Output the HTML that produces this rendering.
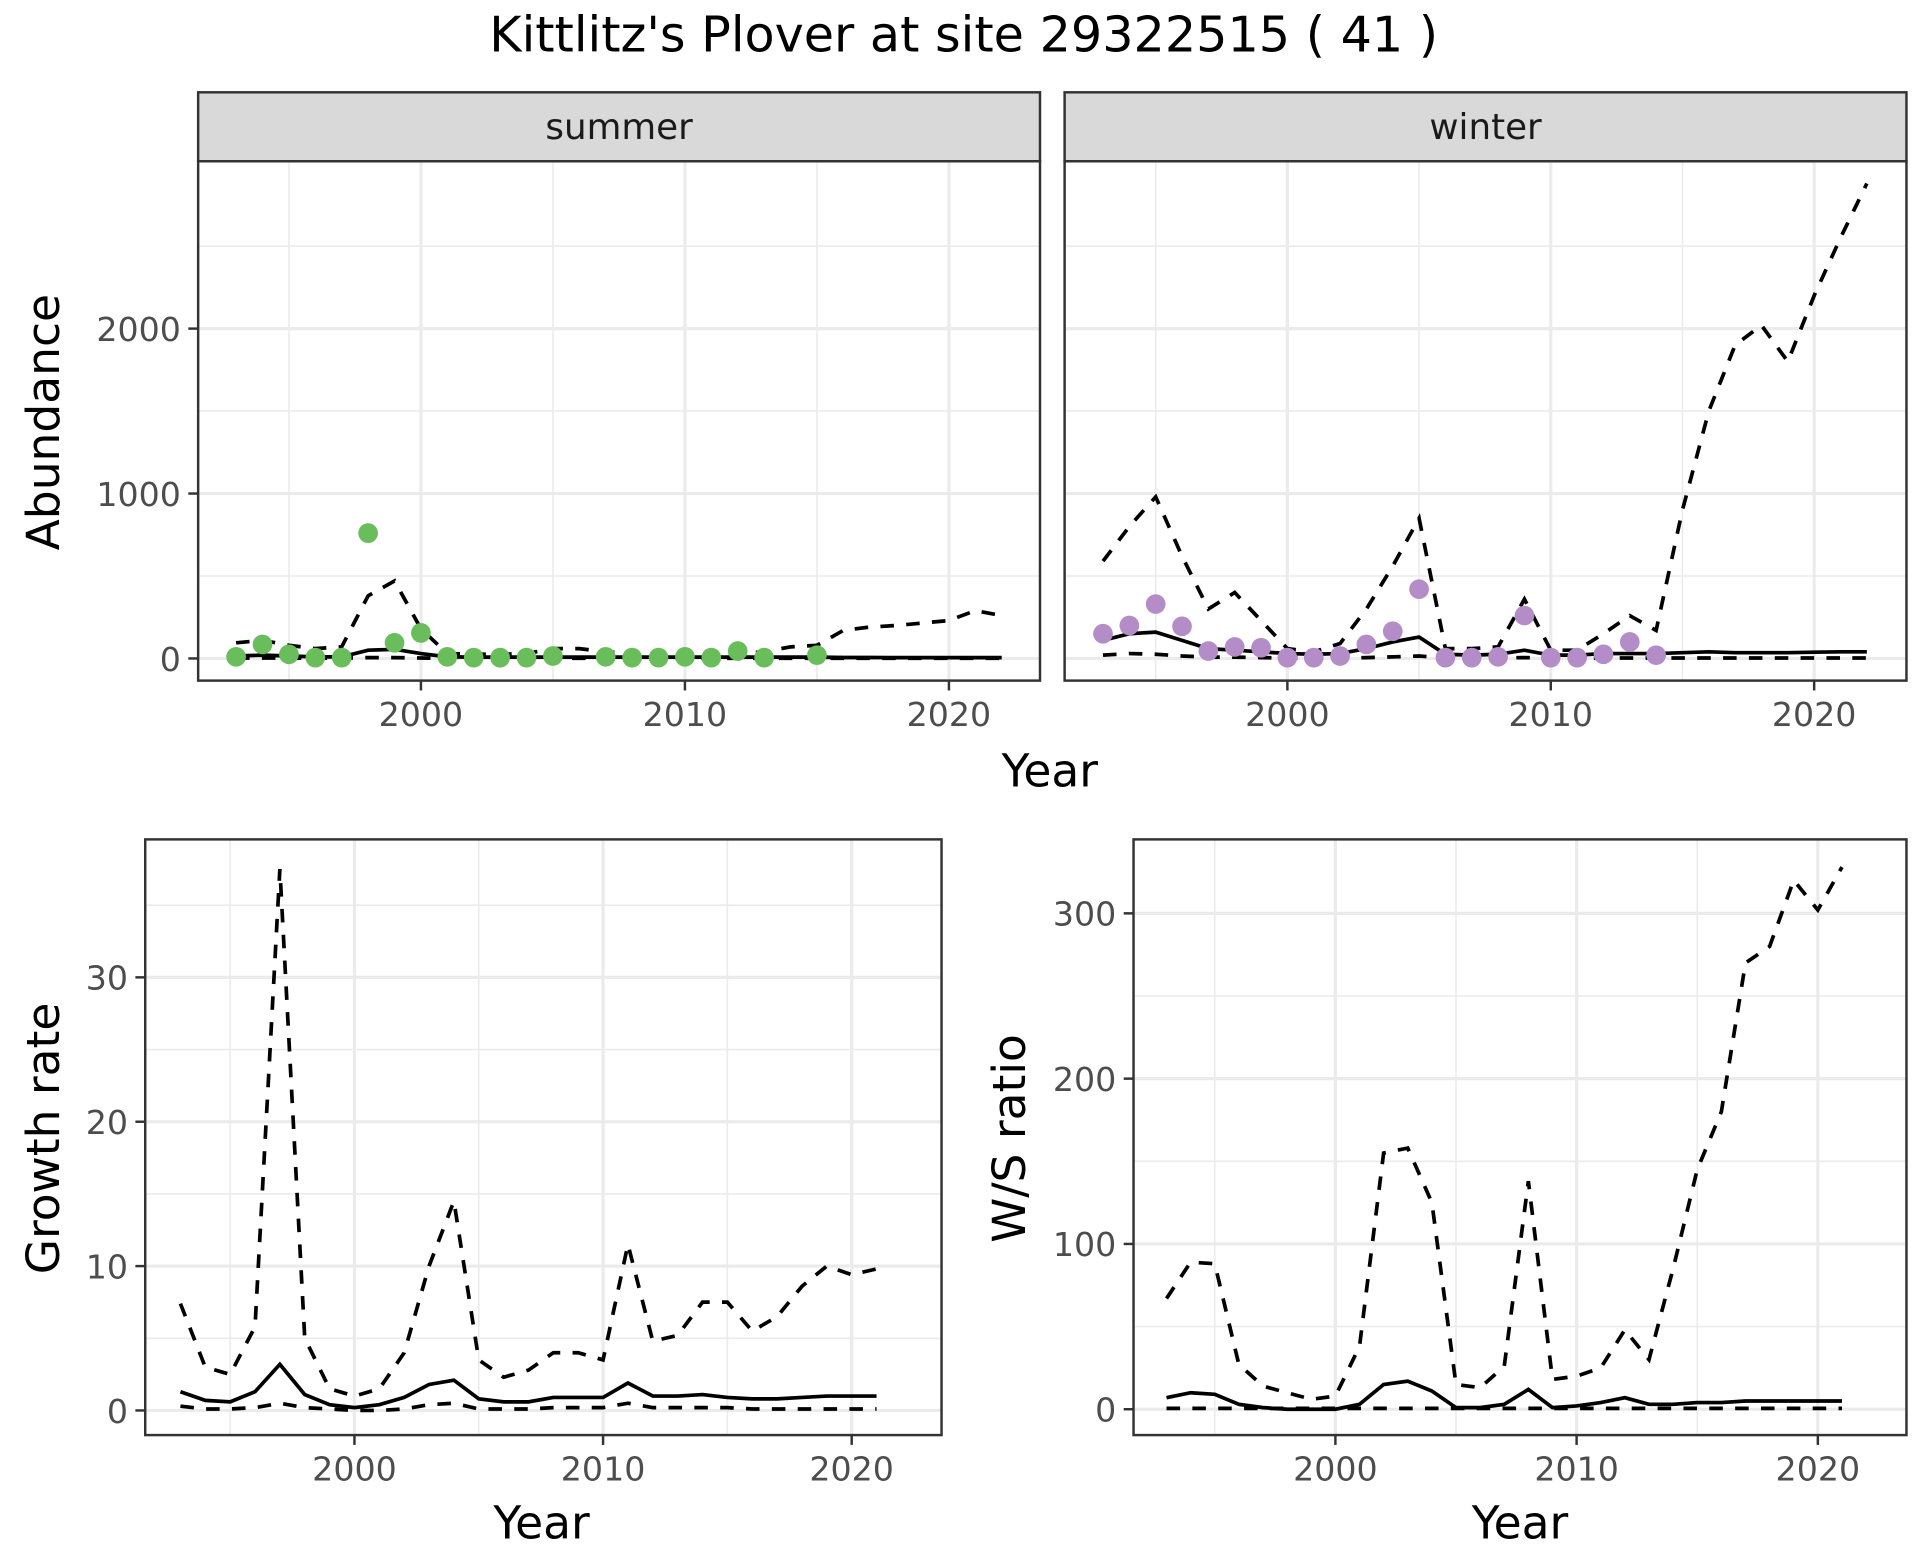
<!DOCTYPE html>
<html><head><meta charset="utf-8"><style>
body{margin:0;background:#fff}
svg{display:block;font-family:"DejaVu Sans","Liberation Sans",sans-serif}
</style></head><body>
<svg id="chart" width="1920" height="1560" viewBox="0 0 1560 1267.5" xmlns="http://www.w3.org/2000/svg">
<rect width="1560" height="1267.5" fill="#fff"/>
<text x="783" y="42" font-size="40" text-anchor="middle" fill="#000">Kittlitz's Plover at site 29322515 ( 41 )</text>
</svg>
<script>
const summerYears=[1993,1994,1995,1996,1997,1998,1999,2000,2001,2002,2003,2004,2005,2007,2008,2009,2010,2011,2012,2013,2015];
const summerCounts=[10,85,25,5,5,760,95,155,10,5,5,5,15,10,5,5,10,5,45,5,20];
const winterYears=[1993,1994,1995,1996,1997,1998,1999,2000,2001,2002,2003,2004,2005,2006,2007,2008,2009,2010,2011,2012,2013,2014];
const winterCounts=[150,200,330,195,45,70,65,5,5,15,85,165,420,5,5,10,260,5,5,25,100,20];
const modelYears=[1993,1994,1995,1996,1997,1998,1999,2000,2001,2002,2003,2004,2005,2006,2007,2008,2009,2010,2011,2012,2013,2014,2015,2016,2017,2018,2019,2020,2021,2022];
const summerMid=[15,20,15,10,10,50,55,30,10,8,8,8,8,8,8,8,8,8,8,8,8,8,8,6,6,5,5,5,5,5];
const summerHigh=[95,110,80,60,70,380,470,180,30,25,25,30,60,60,40,30,30,30,30,30,40,70,80,170,190,200,215,230,290,260];
const summerLow=[2,3,2,2,2,5,5,3,1,1,1,1,1,1,1,1,1,1,1,1,1,1,1,1,1,1,1,1,1,1];
const winterMid=[110,150,160,110,60,50,40,30,25,30,60,100,130,25,20,25,50,20,20,30,30,30,35,40,35,35,35,38,40,40];
const winterHigh=[590,800,980,620,300,400,230,60,40,90,300,560,850,60,60,70,360,50,50,150,260,170,900,1500,1900,2020,1800,2200,2550,2880];
const winterLow=[20,30,25,15,8,8,5,3,3,3,5,10,15,3,3,3,5,3,3,3,3,3,3,3,3,3,3,3,3,3];
const rateYears=[1993,1994,1995,1996,1997,1998,1999,2000,2001,2002,2003,2004,2005,2006,2007,2008,2009,2010,2011,2012,2013,2014,2015,2016,2017,2018,2019,2020,2021];
const growthMid=[1.3,0.7,0.6,1.3,3.2,1.1,0.4,0.2,0.4,0.9,1.8,2.1,0.8,0.6,0.6,0.9,0.9,0.9,1.9,1.0,1.0,1.1,0.9,0.8,0.8,0.9,1.0,1.0,1.0];
const growthHigh=[7.4,3.0,2.5,5.8,37.5,5.0,1.5,1.0,1.5,4.0,10.0,14.5,3.5,2.3,2.8,4.0,4.0,3.5,11.5,4.8,5.2,7.5,7.5,5.5,6.5,8.6,10.0,9.4,9.8];
const growthLow=[0.3,0.1,0.1,0.2,0.5,0.2,0.1,0.0,0.0,0.1,0.4,0.5,0.1,0.1,0.1,0.2,0.2,0.2,0.5,0.2,0.2,0.2,0.2,0.1,0.1,0.1,0.1,0.1,0.1];
const ratioMid=[7,10,9,3,1,0,0,0,3,15,17,11,1,1,3,12,1,2,4,7,3,3,4,4,5,5,5,5,5];
const ratioHigh=[67,89,88,27,14,10,6,8,38,155,158,125,15,13,26,138,18,20,25,48,30,85,145,180,270,280,320,302,328];
const ratioLow=[0.5,0.5,0.5,0.5,0.5,0.5,0.5,0.5,0.5,0.5,0.5,0.5,0.5,0.5,0.5,0.5,0.5,0.5,0.5,0.5,0.5,0.5,0.5,0.5,0.5,0.5,0.5,0.5,0.5];
const xTicks=[2000,2010,2020];
const abundanceTicks=[0,1000,2000];
const growthTicks=[0,10,20,30];
const ratioTicks=[0,100,200,300];

const svg=document.getElementById('chart');
const NS='http://www.w3.org/2000/svg';
function mk(tag,attrs,parent){const e=document.createElementNS(NS,tag);for(const k in attrs)e.setAttribute(k,attrs[k]);(parent||svg).appendChild(e);return e;}

function panel(p){
  const g=mk('g',{});
  
  
  const sx=v=>p.x0+(v-2000)*p.kx, sy=v=>p.y0-v*p.ky;
  mk('rect',{x:p.L,y:p.T,width:p.R-p.L,height:p.B-p.T,fill:'#fff'},g);
  for(let yr=1995;yr<=2025;yr+=10){const x=sx(yr);if(x>p.L&&x<p.R)mk('line',{x1:x,x2:x,y1:p.T,y2:p.B,stroke:'#ebebeb','stroke-width':1.3},g);}
  p.minor.forEach(v=>{const y=sy(v);if(y>p.T&&y<p.B)mk('line',{x1:p.L,x2:p.R,y1:y,y2:y,stroke:'#ebebeb','stroke-width':1.3},g);});
  xTicks.forEach(yr=>{const x=sx(yr);mk('line',{x1:x,x2:x,y1:p.T,y2:p.B,stroke:'#ebebeb','stroke-width':2.6},g);
    mk('line',{x1:x,x2:x,y1:p.B,y2:p.B+8,stroke:'#333','stroke-width':2},g);
    const t=mk('text',{x:x,y:p.B+37,'font-size':27,'text-anchor':'middle',fill:'#4d4d4d'},g);t.textContent=yr;
    
    });
  p.ticks.forEach(v=>{const y=sy(v);mk('line',{x1:p.L,x2:p.R,y1:y,y2:y,stroke:'#ebebeb','stroke-width':2.6},g);
    if(p.yLabels){mk('line',{x1:p.L-8,x2:p.L,y1:y,y2:y,stroke:'#333','stroke-width':2},g);
    const t=mk('text',{x:p.L-14,y:y+10,'font-size':27,'text-anchor':'end',fill:'#4d4d4d'},g);t.textContent=v;
    
    }});
  const line=(xs,ys,dash,nm)=>{const d=xs.map((x,i)=>(i?'L':'M')+sx(x).toFixed(1)+','+sy(ys[i]).toFixed(1)).join('');
    const l=mk('path',{d:d,fill:'none',stroke:'#000','stroke-width':3,'stroke-dasharray':dash?'11,10':'none'},g);
    
    };
  line(p.xs,p.low,true,'lower-bound-line');
  line(p.xs,p.high,true,'upper-bound-line');
  line(p.xs,p.mid,false,'estimate-line');
  if(p.px){p.px.forEach((yr,i)=>{const c=mk('circle',{cx:sx(yr),cy:sy(p.py[i]),r:8,fill:p.col},g);
    
    });}
  mk('rect',{x:p.L,y:p.T,width:p.R-p.L,height:p.B-p.T,fill:'none',stroke:'#333','stroke-width':2},g);
  if(p.strip){const s=mk('rect',{x:p.L,y:75,width:p.R-p.L,height:56,fill:'#d9d9d9',stroke:'#333','stroke-width':2},g);
    
    
    const t=mk('text',{x:(p.L+p.R)/2,y:113,'font-size':29,'text-anchor':'middle',fill:'#1a1a1a'},g);t.textContent=p.strip;
    
    }
}
panel({name:'summer-panel',L:161,R:845,T:131,B:553,x0:342,kx:21.45,y0:535,ky:0.134,ticks:abundanceTicks,minor:[500,1500,2500],yLabels:true,xs:modelYears,mid:summerMid,high:summerHigh,low:summerLow,px:summerYears,py:summerCounts,col:'#6abd5b',strip:'summer'});
panel({name:'winter-panel',L:865,R:1549,T:131,B:553,x0:1046,kx:21.4,y0:535,ky:0.134,ticks:abundanceTicks,minor:[500,1500,2500],yLabels:false,xs:modelYears,mid:winterMid,high:winterHigh,low:winterLow,px:winterYears,py:winterCounts,col:'#b48cc8',strip:'winter'});
panel({name:'growth-panel',L:118,R:765,T:682,B:1166,x0:288,kx:20.2,y0:1146,ky:11.73,ticks:growthTicks,minor:[5,15,25,35],yLabels:true,xs:rateYears,mid:growthMid,high:growthHigh,low:growthLow});
panel({name:'ratio-panel',L:921,R:1549,T:682,B:1166,x0:1085,kx:19.6,y0:1145,ky:1.343,ticks:ratioTicks,minor:[50,150,250],yLabels:true,xs:rateYears,mid:ratioMid,high:ratioHigh,low:ratioLow});
function lab(txt,x,y,rot,nm){const t=mk('text',{x:x,y:y,'font-size':37,'text-anchor':'middle',fill:'#000',transform:rot?`rotate(-90 ${x} ${y})`:''});t.textContent=txt;
  
  }
lab('Year',853,639,false,'x-axis-title-top');
lab('Abundance',48,343,true,'y-axis-title-abundance');
lab('Year',440,1250,false,'x-axis-title-growth');
lab('Growth rate',48,925,true,'y-axis-title-growth');
lab('Year',1235,1250,false,'x-axis-title-ratio');
lab('W/S ratio',833,925,true,'y-axis-title-ratio');
</script>
</body></html>
